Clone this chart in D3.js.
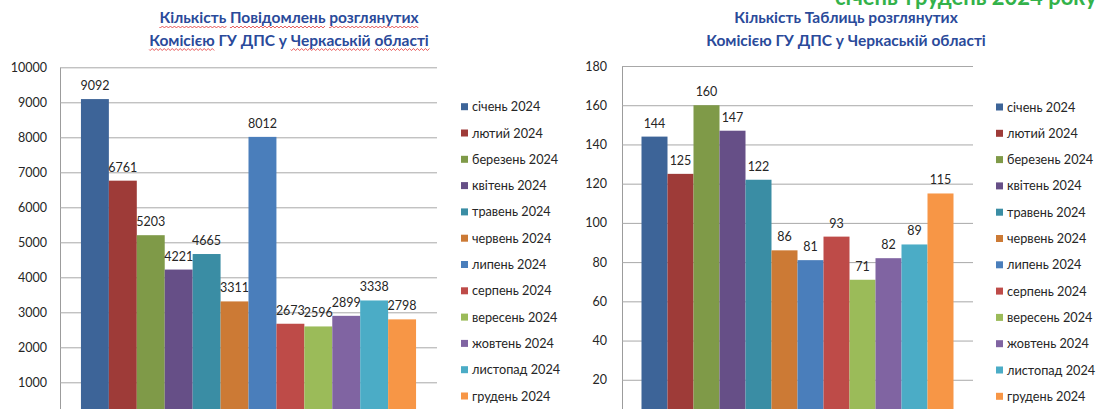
<!DOCTYPE html>
<html><head><meta charset="utf-8">
<script src="https://cdn.jsdelivr.net/npm/d3@7"></script>
<style>
html,body{margin:0;padding:0;background:#fff;}
svg{display:block;}
text{font-family:Lato,"Open Sans",sans-serif;}
</style></head>
<body>
<svg id="c" width="1101" height="409"></svg>
<script>
const months = ["січень 2024","лютий 2024","березень 2024","квітень 2024","травень 2024","червень 2024","липень 2024","серпень 2024","вересень 2024","жовтень 2024","листопад 2024","грудень 2024"];
const notices = [9092,6761,5203,4221,4665,3311,8012,2673,2596,2899,3338,2798];
const tables = [144,125,160,147,122,86,81,93,71,82,89,115];
const noticeTicks = [1000,2000,3000,4000,5000,6000,7000,8000,9000,10000];
const tableTicks = [20,40,60,80,100,120,140,160,180];
const colors = ["#3D6498","#9E3B38","#7F9A48","#664F87","#3A8DA4","#CC7A35","#4A7EBB","#BE4B48","#9BBB59","#8064A2","#4BACC6","#F79646"];
const leftTitle = ["Кількість Повідомлень розглянутих","Комісією ГУ ДПС у Черкаській області"];
const rightTitle = ["Кількість Таблиць розглянутих","Комісією ГУ ДПС у Черкаській області"];
const periodText = "січень-грудень 2024 року";

const svg = d3.select("#c");

function chart(cfg){
  const g = svg.append("g");
  const y = d3.scaleLinear().domain([0, cfg.max]).range([cfg.y0, cfg.yTop]);
  const x = d3.scaleBand().domain(months).range([cfg.x0, cfg.x1]).paddingInner(0).paddingOuter(0.75);
  const ax = g.append("g").attr("transform",`translate(${cfg.x0},0)`)
    .call(d3.axisLeft(y).tickValues(cfg.ticks).tickSizeInner(-(cfg.x1-cfg.x0)).tickSizeOuter(0).tickPadding(cfg.pad).tickFormat(d3.format("d")));
  ax.select(".domain").attr("stroke","#9c9c9c");
  ax.selectAll(".tick line").attr("stroke","#a8a8a8");
  ax.selectAll(".tick text").attr("fill","#262626").style("font-size","12.5px").style("font-family","Lato");
  g.selectAll("rect.bar").data(cfg.values).join("rect").attr("class","bar")
    .attr("x",(d,i)=>x(months[i])).attr("width",x.bandwidth())
    .attr("y",d=>y(d)).attr("height",d=>y(0)-y(d))
    .attr("fill",(d,i)=>colors[i]);
  g.selectAll("text.lbl").data(cfg.values).join("text").attr("class","lbl")
    .attr("x",(d,i)=>x(months[i])+x.bandwidth()/2).attr("y",d=>y(d)-9)
    .attr("text-anchor","middle").attr("fill","#262626").style("font-size","12.5px")
    .text(d=>d);
  const lg = g.append("g");
  months.forEach((m,i)=>{
    const yy = cfg.legY + i*26.3;
    lg.append("rect").attr("x",cfg.legX).attr("y",yy-3.5).attr("width",7).attr("height",7).attr("fill",colors[i]);
    lg.append("text").attr("x",cfg.legX+11).attr("y",yy+4.5).attr("fill","#262626").style("font-size","12.7px").text(m);
  });
  cfg.title.forEach((t,i)=>{
    const ty = 23+i*22.5;
    const te = g.append("text").attr("x",cfg.tx).attr("y",ty).attr("text-anchor","middle")
      .attr("fill","#2a4a9a").style("font-size","15.5px").style("font-weight","bold").text(t);
    if(cfg.squiggle){
      const node = te.node();
      const words = cfg.squiggle[i];
      words.forEach(w=>{
        const idx = t.indexOf(w);
        if(idx<0) return;
        const sx = node.getStartPositionOfChar(idx).x;
        const len = node.getSubStringLength(idx, w.length);
        const by = ty+4;
        let p = `M${sx},${by}`;
        for(let xx=sx; xx<sx+len; xx+=2){ p += ` L${xx+1},${by+((Math.round((xx-sx)/2))%2?-1:1)}`; }
        g.append("path").attr("d",p).attr("fill","none").attr("stroke","#e03030").attr("stroke-width",0.8);
      });
    }
  });
}

chart({values:notices,max:10000,ticks:noticeTicks,y0:417.3,yTop:67.3,x0:60,x1:437,pad:13,legX:461,legY:106.7,title:leftTitle,tx:289,
  squiggle:[["Кількість","Повідомлень","розглянутих"],["Комісією","Черкаській","області"]]});
chart({values:tables,max:180,ticks:tableTicks,y0:419,yTop:66,x0:622,x1:973,pad:15,legX:996,legY:107,title:rightTitle,tx:846});

svg.append("text").attr("x",835).attr("y",5).attr("fill","#33b24a").style("font-size","22px").style("font-weight","bold").text(periodText);
</script>
</body></html>
